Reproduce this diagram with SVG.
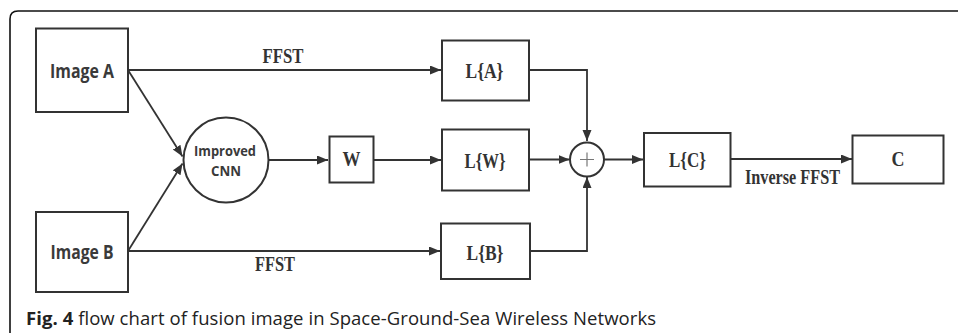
<svg xmlns="http://www.w3.org/2000/svg" width="958" height="333" viewBox="0 0 958 333">
<style>
.box{fill:#fff;stroke:#333;stroke-width:2}
.ln{fill:none;stroke:#333;stroke-width:1.8}
.sans{font-family:"Open Sans","Liberation Sans",sans-serif;font-weight:bold;fill:#3a3a3a}
.ser{font-family:"Liberation Serif","Times New Roman",serif;font-weight:bold;fill:#333;font-size:20px}
.cap{font-family:"Open Sans","Liberation Sans",sans-serif;font-size:18.5px;fill:#222}
</style>
<defs>
<marker id="ah" markerUnits="userSpaceOnUse" markerWidth="12" markerHeight="10" refX="11" refY="4.5" orient="auto">
<path d="M0,0 L11,4.5 L0,9 z" fill="#333"/>
</marker>
</defs>
<rect width="958" height="333" fill="#fff"/>
<path d="M10,333 V19 Q10,11 18,11 H958" fill="none" stroke="#111" stroke-width="1.6"/>

<g id="connectors">
<path class="ln" d="M128,70 H441" marker-end="url(#ah)"/>
<path class="ln" d="M128,251 H440" marker-end="url(#ah)"/>
<path class="ln" d="M128,70 L182.5,156.5" marker-end="url(#ah)"/>
<path class="ln" d="M128,251 L182.5,163.5" marker-end="url(#ah)"/>
<path class="ln" d="M269,160 H328" marker-end="url(#ah)"/>
<path class="ln" d="M374,160 H441" marker-end="url(#ah)"/>
<path class="ln" d="M529,70 H587 V141" marker-end="url(#ah)"/>
<path class="ln" d="M529,159.5 H569.5" marker-end="url(#ah)"/>
<path class="ln" d="M530,251 H587 V177" marker-end="url(#ah)"/>
<path class="ln" d="M604,159.5 H643" marker-end="url(#ah)"/>
<path class="ln" d="M731,159 H852" marker-end="url(#ah)"/>
<text class="ser" x="283" y="63" text-anchor="middle" textLength="41" lengthAdjust="spacingAndGlyphs">FFST</text>
<text class="ser" x="275" y="271" text-anchor="middle" textLength="40" lengthAdjust="spacingAndGlyphs">FFST</text>
<text class="ser" x="792.5" y="183.5" text-anchor="middle" textLength="95" lengthAdjust="spacingAndGlyphs">Inverse FFST</text>
</g>

<g id="imageA">
<rect class="box" x="36" y="28.5" width="92" height="83.5"/>
<text class="sans" x="82" y="77.5" font-size="19" text-anchor="middle" textLength="64" lengthAdjust="spacingAndGlyphs">Image A</text>
</g>
<g id="imageB">
<rect class="box" x="36" y="212" width="92" height="80"/>
<text class="sans" x="82" y="258.5" font-size="19" text-anchor="middle" textLength="63" lengthAdjust="spacingAndGlyphs">Image B</text>
</g>
<g id="cnn">
<circle class="box" cx="226" cy="160" r="42.5"/>
<text class="sans" x="225" y="155.5" font-size="14" text-anchor="middle" textLength="62" lengthAdjust="spacingAndGlyphs">Improved</text>
<text class="sans" x="226" y="175.5" font-size="15" text-anchor="middle" textLength="30" lengthAdjust="spacingAndGlyphs">CNN</text>
</g>
<g id="W">
<rect class="box" x="329.5" y="136.5" width="44" height="46"/>
<text class="ser" x="351.5" y="166" text-anchor="middle" textLength="18" lengthAdjust="spacingAndGlyphs">W</text>
</g>
<g id="LA">
<rect class="box" x="442" y="40.5" width="87" height="60"/>
<text class="ser" x="484.5" y="78" text-anchor="middle" textLength="38" lengthAdjust="spacingAndGlyphs">L{A}</text>
</g>
<g id="LW">
<rect class="box" x="442" y="129.5" width="87" height="61"/>
<text class="ser" x="485" y="167.5" text-anchor="middle" textLength="41" lengthAdjust="spacingAndGlyphs">L{W}</text>
</g>
<g id="LB">
<rect class="box" x="441" y="223.5" width="89" height="55.5"/>
<text class="ser" x="485" y="260" text-anchor="middle" textLength="37" lengthAdjust="spacingAndGlyphs">L{B}</text>
</g>
<g id="sum">
<circle class="box" cx="587" cy="159.5" r="17"/>
<path d="M580,159.5 H594 M587,152.5 V166.5" stroke="#777" stroke-width="1.2"/>
</g>
<g id="LC">
<rect class="box" x="644" y="133" width="86.5" height="53.5"/>
<text class="ser" x="687.5" y="166.5" text-anchor="middle" textLength="37" lengthAdjust="spacingAndGlyphs">L{C}</text>
</g>
<g id="C">
<rect class="box" x="852.5" y="135.5" width="91" height="48"/>
<text class="ser" x="898" y="166" text-anchor="middle" textLength="13" lengthAdjust="spacingAndGlyphs">C</text>
</g>

<text class="cap" x="26" y="324.5" textLength="630" lengthAdjust="spacing"><tspan font-weight="bold">Fig. 4</tspan> flow chart of fusion image in Space-Ground-Sea Wireless Networks</text>
</svg>
